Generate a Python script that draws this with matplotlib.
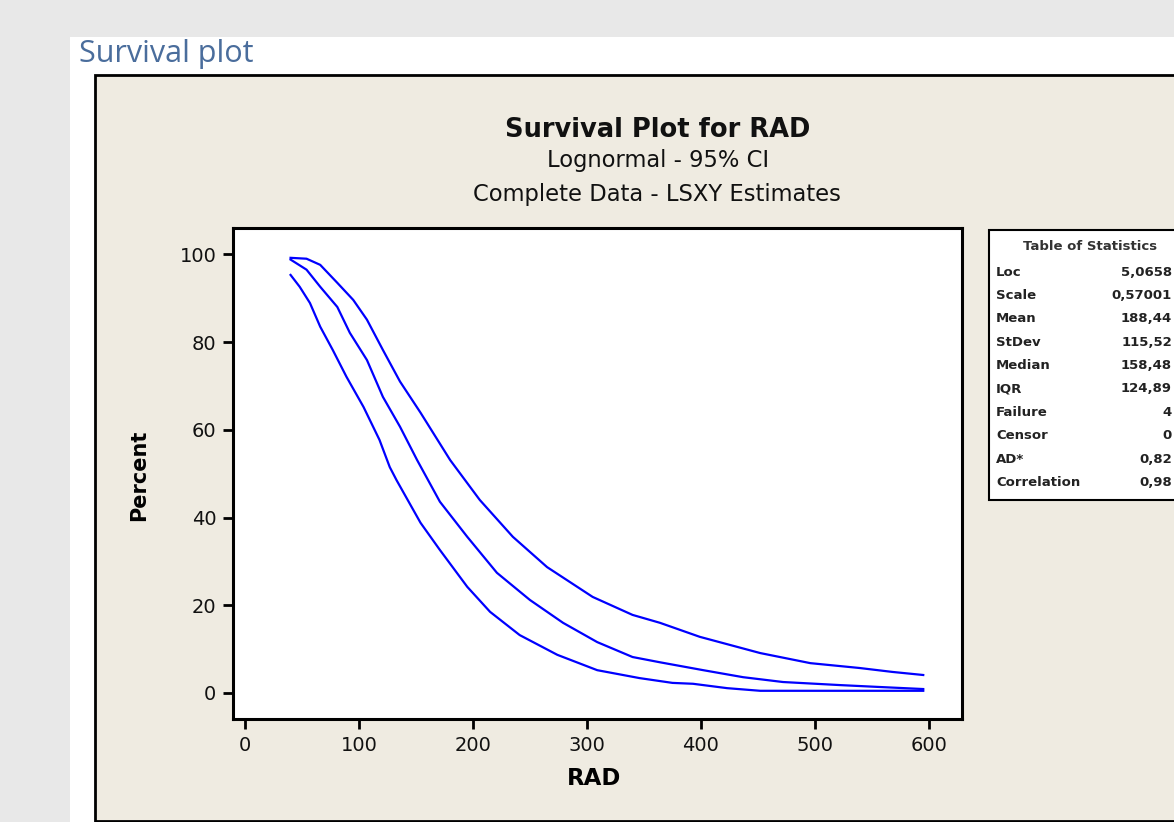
import matplotlib
matplotlib.use('Agg')
import matplotlib.pyplot as plt
from matplotlib.patches import Rectangle

W, H = 1174, 822

# curves (RAD, percent surviving)
x_upper = [40, 54, 66, 81, 95, 107, 121, 136, 154, 180, 206, 235, 265, 305,
           340, 364, 399, 452, 496, 539, 568, 595]
y_upper = [99.2, 99.0, 97.6, 93.5, 89.6, 85.1, 78.2, 71.0, 63.9, 53.1, 44.0,
           35.6, 28.7, 21.9, 17.8, 16.0, 12.8, 9.1, 6.8, 5.7, 4.8, 4.1]

x_mid = [40, 54, 66, 81, 92, 107, 121, 136, 151, 171, 195, 221, 250, 279,
         309, 340, 364, 402, 437, 472, 522, 554, 595]
y_mid = [98.8, 96.5, 92.6, 88.0, 82.1, 75.9, 67.5, 60.7, 53.1, 43.6, 35.6,
         27.4, 21.2, 16.0, 11.6, 8.2, 7.0, 5.2, 3.6, 2.5, 1.8, 1.4, 0.9]

x_lower = [40, 48, 57, 66, 77, 89, 104, 118, 127, 133, 154, 171, 195, 215,
           241, 274, 309, 346, 375, 393, 423, 452, 595]
y_lower = [95.3, 92.6, 88.9, 83.5, 78.2, 72.1, 65.2, 57.7, 51.5, 48.5, 38.8,
           32.6, 24.2, 18.5, 13.2, 8.7, 5.2, 3.4, 2.3, 2.1, 1.1, 0.5, 0.5]

xticks = [0, 100, 200, 300, 400, 500, 600]
yticks = [0, 20, 40, 60, 80, 100]

# table values as far as they can be read (cut at the screenshot edge)
stat_names = ['Loc', 'Scale', 'Mean', 'StDev', 'Median', 'IQR', 'Failure',
              'Censor', 'AD*', 'Correlation']
stat_values = ['5,0658', '0,57001', '188,44', '115,52', '158,48',
               '124,89', '4', '0', '0,82', '0,98']


def fx(px):
    return px / W


def fy(py):
    return 1 - py / H


fig = plt.figure(figsize=(W / 100, H / 100), dpi=100, facecolor='#E8E8E8')

# white page and beige graph panel
fig.patches.append(Rectangle((fx(70), 0), 1, fy(37), transform=fig.transFigure,
                             facecolor='white', edgecolor='none', zorder=0))
fig.patches.append(Rectangle((fx(95), fy(821)), fx(1100), fy(75) - fy(821),
                             transform=fig.transFigure, facecolor='#EFEBE1',
                             edgecolor='black', lw=2, zorder=1))

fig.text(fx(79), fy(62), 'Survival plot', color='#4A6D9C', fontsize=22,
         family='Open Sans', va='baseline', ha='left')

fig.text(fx(658), fy(130), 'Survival Plot for RAD', fontsize=18.5,
         fontweight='bold', ha='center', va='center', color='#111111')
fig.text(fx(658), fy(161), 'Lognormal - 95% CI', fontsize=16.3,
         ha='center', va='center', color='#111111')
fig.text(fx(657), fy(194), 'Complete Data - LSXY Estimates', fontsize=16.3,
         ha='center', va='center', color='#111111')

ax = fig.add_axes([fx(233), fy(719), (962 - 233) / W, (719 - 228) / H])
ax.set_zorder(5)
ax.set_facecolor('white')
ax.plot(x_upper, y_upper, color='#0000FF', lw=1.6)
ax.plot(x_mid, y_mid, color='#0000FF', lw=1.6)
ax.plot(x_lower, y_lower, color='#0000FF', lw=1.6)

ax.set_xlim(-10.5, 629)
ax.set_ylim(-5.93, 106.0)
ax.set_xticks(xticks)
ax.set_yticks(yticks)
ax.tick_params(direction='out', length=7, width=2, labelsize=14,
               labelcolor='#111111', pad=5)
for s in ax.spines.values():
    s.set_linewidth(2.2)

fig.text(fx(594), fy(778), 'RAD', fontsize=16.5, fontweight='bold',
         ha='center', va='center')
fig.text(fx(139), fy(475), 'Percent', rotation=90, fontsize=15,
         fontweight='bold', ha='center', va='center')

# table of statistics
fig.patches.append(Rectangle((fx(989), fy(500)), fx(300), fy(230) - fy(500),
                             transform=fig.transFigure, facecolor='white',
                             edgecolor='black', lw=1.5, zorder=2))
fig.text(fx(1090), fy(247), 'Table of Statistics', fontsize=9.5,
         fontweight='bold', ha='center', va='center', color='#333333', zorder=3)
for i, (nm, val) in enumerate(zip(stat_names, stat_values)):
    yy = fy(272 + i * 23.4)
    fig.text(fx(996), yy, nm, fontsize=9.5, fontweight='bold', ha='left',
             va='center', color='#222222', zorder=3)
    fig.text(fx(1172), yy, val, fontsize=9.5, fontweight='bold', ha='right',
             va='center', color='#222222', zorder=3)

fig.savefig('out.png', dpi=100, facecolor=fig.get_facecolor())
